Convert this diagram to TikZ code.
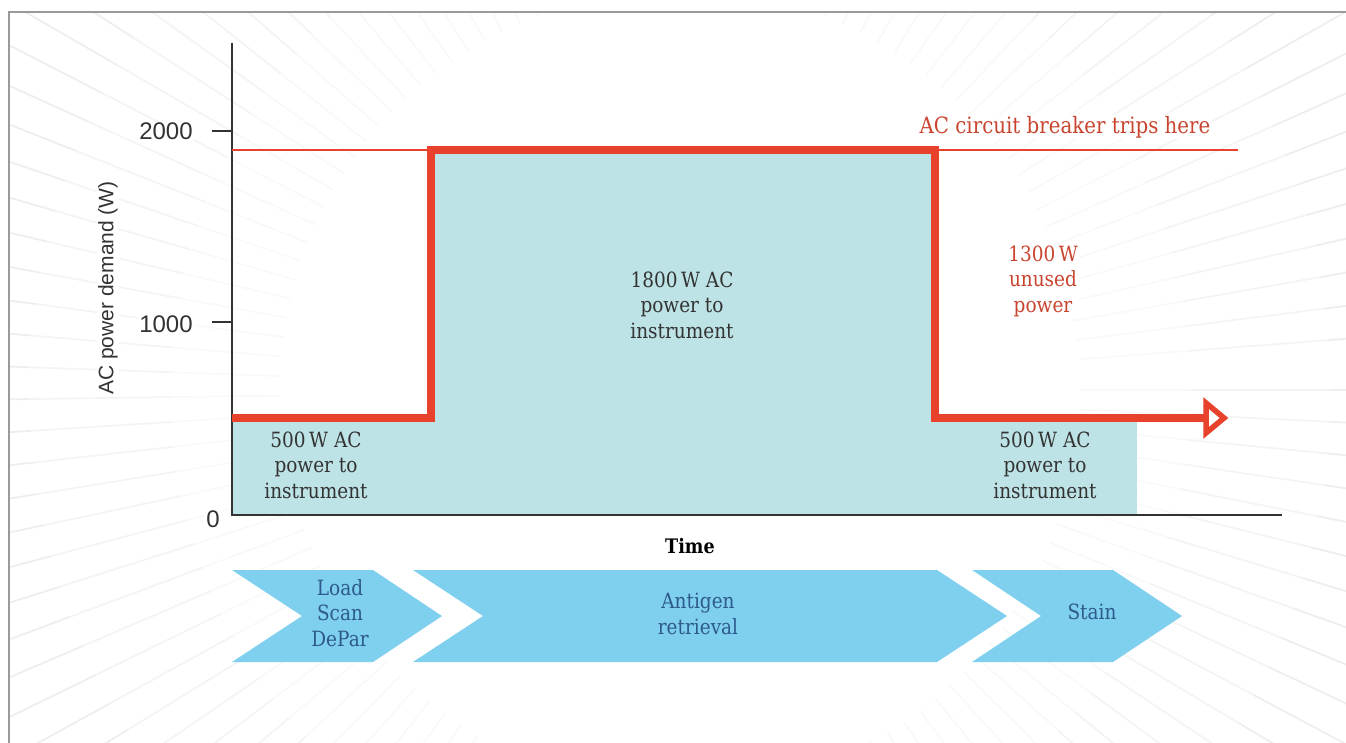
\documentclass[tikz,border=0pt]{standalone}
\usepackage{fontspec}
\setmainfont{DejaVu Serif}[FakeStretch=0.88]
\newfontfamily\axisfont{Liberation Sans}
\definecolor{teal}{HTML}{BEE3E6}
\definecolor{chev}{HTML}{7FCFEE}
\definecolor{pred}{HTML}{E8412C}
\definecolor{tred}{HTML}{C9442F}
\definecolor{tblue}{HTML}{2D5A8C}
\definecolor{tdark}{HTML}{333333}
\definecolor{frame}{HTML}{9A9A9A}
\tikzset{
  serif/.style={font=\fontsize{21}{25.5}\selectfont, text=tdark, align=center, inner sep=1pt},
  redtxt/.style={serif, text=tred},
  chevtxt/.style={serif, text=tblue},
  axislbl/.style={font=\axisfont\fontsize{24}{28}\selectfont, text=tdark, inner sep=1pt, fill=white},
  axistitle/.style={font=\axisfont\fontsize{21}{24}\selectfont, text=tdark, inner sep=1pt, fill=white},
  chevshape/.style={fill=chev, draw=none},
  power/.style={draw=pred, line width=8pt, line join=miter},
  ray/.style={line width=1.8pt}
}
\begin{document}
\begin{tikzpicture}[x=1pt,y=-1pt]
\useasboundingbox (0,0) rectangle (1346,743);
% background rays
\begin{scope}
\clip (9,12) rectangle (1346,743);
\foreach \a in {0,2.8,...,358} {
  \draw[ray, black!2.5] (680,390) ++(\a:400) -- ++(\a:110);
  \draw[ray, black!4.5] (680,390) ++(\a:510) -- ++(\a:140);
  \draw[ray, black!6.5] (680,390) ++(\a:650) -- ++(\a:500);
}
\end{scope}
% frame
\draw[frame, line width=1.5pt] (9,743) -- (9,12) -- (1346,12);
% teal fills
\fill[teal] (232,418) rectangle (431,515);
\fill[teal] (431,150) rectangle (935,515);
\fill[teal] (935,418) rectangle (1137,515);
% axes
\coordinate (ytop) at (232,43);
\coordinate (orig) at (232,515);
\coordinate (xend) at (1282,515);
\coordinate (t2a) at (212,131); \coordinate (t2b) at (232,131);
\coordinate (t1a) at (212,322); \coordinate (t1b) at (232,322);
\draw[tdark, line width=2pt] (ytop) -- (orig) -- (xend);
\draw[tdark, line width=1.8pt] (t2a) -- (t2b);
\draw[tdark, line width=1.8pt] (t1a) -- (t1b);
% breaker line
\coordinate (b0) at (232,150);
\coordinate (b1) at (1238,150);
\draw[pred, line width=2pt] (b0) -- (b1);
% power curve
\coordinate (p0) at (232,418);
\coordinate (p1) at (431,418);
\coordinate (p2) at (431,150);
\coordinate (p3) at (935,150);
\coordinate (p4) at (935,418);
\coordinate (p5) at (1206,418);
\draw[power] (p0) -- (p1) -- (p2) -- (p3) -- (p4) -- (p5);
\coordinate (h0) at (1206,403);
\coordinate (h1) at (1224,418);
\coordinate (h2) at (1206,433);
\draw[draw=pred, fill=white, line width=5.5pt, line join=miter] (h0) -- (h1) -- (h2) -- cycle;
% axis labels
\node[axislbl] (y2000) at (166,131) {2000};
\node[axislbl] (y1000) at (166,324) {1000};
\node[axislbl] (y0) at (213,519) {0};
\node[axistitle, rotate=90] (ylab) at (108,288) {AC power demand (W)};
% texts
\node[serif, font=\fontsize{20}{24}\selectfont\bfseries, text=black] (time) at (690,546) {Time};
\node[redtxt, fill=white, font=\fontsize{22.5}{25.5}\selectfont] (trip) at (1065,127) {AC circuit breaker trips here};
\node[redtxt, fill=white] (unused) at (1043,281) {1300\,W\\unused\\power};
\node[serif] (lowL) at (316,465) {500\,W AC\\power to\\instrument};
\node[serif] (mid) at (682,305) {1800\,W AC\\power to\\instrument};
\node[serif] (lowR) at (1045,465) {500\,W AC\\power to\\instrument};
% chevrons
\fill[chevshape] (232,570) -- (373,570) -- (442,616) -- (373,662) -- (232,662) -- (302,616) -- cycle;
\fill[chevshape] (413,570) -- (937,570) -- (1007,616) -- (937,662) -- (413,662) -- (483,616) -- cycle;
\fill[chevshape] (972,570) -- (1113,570) -- (1182,616) -- (1113,662) -- (972,662) -- (1041,616) -- cycle;
\node[chevtxt] (load) at (340,613) {Load\\Scan\\DePar};
\node[chevtxt] (antigen) at (698,614) {Antigen\\retrieval};
\node[chevtxt] (stain) at (1092,612) {Stain};
\end{tikzpicture}
\end{document}
